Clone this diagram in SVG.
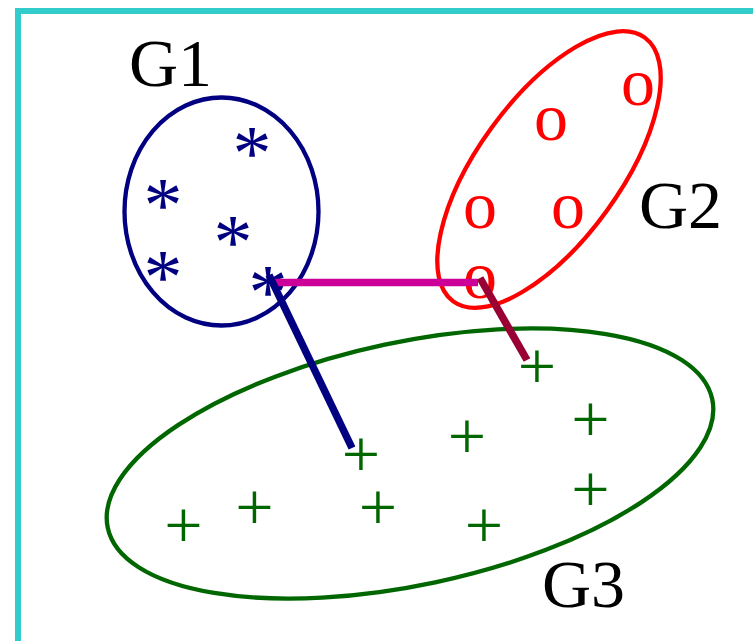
<svg xmlns="http://www.w3.org/2000/svg" width="753" height="641" viewBox="0 0 753 641">
<style>
text{font-family:"Liberation Serif","Times New Roman",serif;font-size:68px}
.lbl{fill:#000}
.ast{fill:#000080;text-anchor:middle;font-size:78px}
.oo{fill:#FF0000;text-anchor:middle}
.pl{fill:#006600;text-anchor:middle}
.hull{fill:none;stroke-width:4.3}
.conn{fill:none;stroke-width:7.5;stroke-linecap:butt}
</style>
<rect width="753" height="641" fill="#fff"/>
<rect x="18" y="11" width="780" height="680" fill="none" stroke="#33CCCC" stroke-width="6"/>
<g id="G1">
<ellipse class="hull" cx="221.5" cy="211.5" rx="97" ry="114" stroke="#000080"/>
<text class="lbl" x="129" y="86">G1</text>
<text class="ast" x="252" y="179">*</text>
<text class="ast" x="163" y="231">*</text>
<text class="ast" x="233" y="268">*</text>
<text class="ast" x="163" y="303">*</text>
<text class="ast" x="268" y="318">*</text>
</g>
<g id="G2">
<ellipse class="hull" cx="0" cy="0" rx="163" ry="71" stroke="#FF0000" transform="translate(549,169.5) rotate(-54)"/>
<text class="lbl" x="639" y="228">G2</text>
<text class="oo" x="638" y="105">o</text>
<text class="oo" x="551" y="140">o</text>
<text class="oo" x="480" y="228">o</text>
<text class="oo" x="568" y="228">o</text>
<text class="oo" x="480" y="298">o</text>
</g>
<g id="G3">
<ellipse class="hull" cx="0" cy="0" rx="309" ry="121.5" stroke="#006600" transform="translate(410,463.5) rotate(-12)"/>
<text class="lbl" x="542" y="607">G3</text>
<text class="pl" x="537" y="389">+</text>
<text class="pl" x="590.5" y="442">+</text>
<text class="pl" x="467" y="459">+</text>
<text class="pl" x="361" y="477">+</text>
<text class="pl" x="590.5" y="512">+</text>
<text class="pl" x="183.5" y="548">+</text>
<text class="pl" x="254.5" y="530">+</text>
<text class="pl" x="378" y="530">+</text>
<text class="pl" x="484" y="548">+</text>
</g>
<g id="connectors">
<line class="conn" x1="273" y1="282.5" x2="478" y2="282.5" stroke="#CC0099"/>
<line class="conn" x1="269" y1="275" x2="352" y2="448" stroke="#000080"/>
<line class="conn" x1="480" y1="278" x2="527" y2="360" stroke="#990033"/>
</g>
</svg>
